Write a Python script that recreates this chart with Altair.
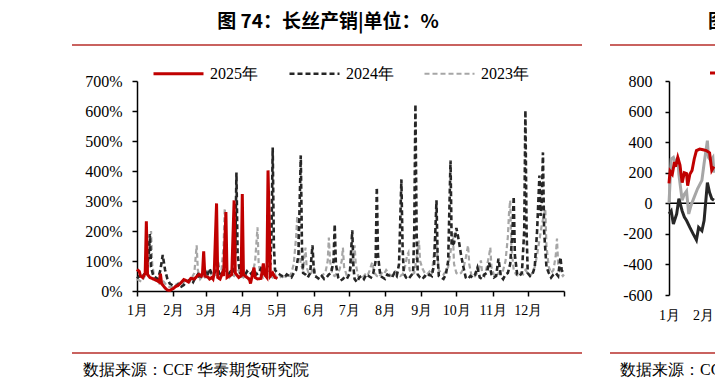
import json
import altair as alt
import pandas as pd

# ---------------- data ----------------
MONTH_STARTS = [0, 31, 59, 90, 120, 151, 181, 212, 243, 273, 304, 334, 365]
MONTH_LABELS = ["1月", "2月", "3月", "4月", "5月", "6月", "7月", "8月", "9月", "10月", "11月", "12月"]
SERIES = ["2025年", "2024年", "2023年"]
COLORS = ["#c00000", "#262626", "#a6a6a6"]
DASHES = [[1, 0], [5, 3], [5, 3]]
WIDTHS = [3, 2.2, 2.2]
Y_TICKS = [0, 100, 200, 300, 400, 500, 600, 700]

# (day of year, %)
s2025 = [(0, 72), (2, 65), (3, 50), (5, 45), (7, 60), (8, 232), (9, 55), (11, 45), (14, 40), (17, 35),
         (19, 30), (20, 58), (21, 25), (24, 10), (26, 3), (28, 2), (31, 8), (33, 15), (35, 18), (37, 25),
         (40, 38), (42, 35), (44, 30), (46, 42), (49, 40), (51, 48), (53, 55), (55, 50), (56, 60), (57, 132),
         (58, 50), (61, 45), (62, 40), (64, 45), (65, 40), (66, 60), (68, 292), (69, 45), (71, 40), (73, 60),
         (74, 50), (76, 263), (77, 45), (79, 50), (81, 55), (83, 302), (84, 60), (87, 45), (89, 50), (90, 323),
         (91, 55), (94, 45), (96, 40), (97, 25), (100, 78), (101, 45), (103, 40), (106, 42), (108, 92), (109, 55),
         (111, 45), (112, 402), (114, 50), (116, 60), (118, 45), (120, 42)]

s2024 = [(0, 42), (2, 50), (4, 45), (6, 55), (8, 60), (10, 120), (11, 190), (12, 80), (14, 50), (16, 45),
         (18, 40), (20, 70), (22, 120), (24, 70), (26, 40), (28, 25), (30, 20), (32, 15), (34, 18), (36, 25),
         (38, 15), (40, 20), (42, 30), (44, 35), (46, 40), (48, 30), (50, 45), (52, 55), (54, 40), (56, 60),
         (58, 70), (60, 50), (62, 75), (64, 55), (66, 60), (68, 70), (69, 102), (70, 60), (72, 55), (74, 70),
         (76, 60), (78, 55), (80, 65), (82, 60), (84, 130), (85, 395), (86, 120), (88, 60), (90, 55), (92, 50),
         (94, 65), (96, 55), (98, 60), (100, 70), (102, 55), (104, 60), (106, 75), (108, 65), (110, 60), (112, 70),
         (114, 90), (115, 200), (116, 478), (117, 150), (118, 70), (120, 60), (122, 55), (124, 50), (126, 45),
         (128, 55), (130, 50), (132, 45), (134, 60), (136, 70), (138, 120), (140, 452), (141, 150), (142, 60),
         (144, 55), (146, 45), (148, 60), (150, 152), (151, 80), (152, 50), (154, 45), (156, 40), (158, 50),
         (160, 40), (162, 45), (164, 55), (166, 60), (168, 100), (169, 222), (170, 90), (172, 45), (174, 35),
         (176, 40), (178, 50), (180, 45), (182, 60), (184, 202), (185, 80), (186, 40), (188, 30), (190, 45),
         (192, 50), (194, 40), (196, 55), (198, 50), (200, 45), (202, 60), (204, 100), (205, 345), (206, 120),
         (208, 50), (210, 45), (212, 40), (214, 55), (216, 50), (218, 45), (220, 60), (222, 50), (224, 90),
         (226, 372), (227, 150), (228, 60), (230, 45), (232, 40), (234, 50), (236, 60), (237, 200), (238, 622),
         (239, 200), (240, 55), (242, 45), (244, 40), (246, 50), (248, 45), (250, 55), (252, 50), (254, 90),
         (256, 302), (257, 110), (258, 50), (260, 45), (262, 40), (264, 55), (266, 100), (268, 435), (269, 150),
         (271, 160), (273, 210), (275, 170), (277, 120), (279, 80), (281, 45), (283, 40), (285, 50), (287, 45),
         (289, 55), (291, 78), (293, 45), (295, 40), (297, 55), (299, 60), (301, 95), (303, 55), (305, 45),
         (307, 50), (309, 108), (311, 50), (313, 40), (315, 55), (317, 60), (319, 90), (321, 200), (322, 315),
         (323, 120), (325, 55), (327, 50), (329, 60), (331, 200), (332, 602), (333, 200), (334, 60), (336, 50),
         (338, 55), (340, 80), (342, 200), (344, 385), (345, 250), (346, 300), (347, 462), (348, 200), (350, 80),
         (352, 60), (354, 45), (356, 55), (358, 60), (360, 50), (362, 112), (363, 70), (365, 55)]

s2023 = [(0, 40), (2, 35), (4, 30), (6, 45), (8, 60), (10, 120), (12, 200), (13, 90), (15, 40), (17, 30),
         (19, 25), (21, 40), (23, 30), (25, 20), (27, 15), (29, 12), (31, 15), (33, 20), (35, 25), (37, 30),
         (39, 25), (41, 35), (43, 40), (45, 30), (47, 45), (49, 60), (51, 152), (52, 70), (54, 40), (56, 50),
         (58, 45), (60, 55), (62, 65), (64, 50), (66, 60), (68, 45), (70, 55), (72, 60), (74, 150), (75, 275),
         (76, 180), (77, 60), (79, 45), (81, 55), (83, 50), (85, 60), (87, 70), (89, 50), (91, 45), (93, 55),
         (95, 40), (97, 50), (99, 60), (101, 100), (103, 212), (104, 90), (106, 50), (108, 45), (110, 55),
         (112, 40), (114, 50), (116, 45), (118, 55), (120, 40), (122, 45), (124, 50), (126, 40), (128, 55),
         (130, 45), (132, 60), (134, 90), (136, 180), (137, 250), (138, 160), (140, 90), (142, 70), (144, 145),
         (145, 80), (147, 55), (149, 60), (151, 80), (153, 50), (155, 40), (157, 45), (159, 55), (161, 60),
         (163, 100), (164, 178), (165, 100), (167, 55), (169, 50), (171, 60), (173, 70), (175, 100), (176, 145),
         (177, 80), (179, 55), (181, 60), (183, 80), (185, 110), (186, 152), (187, 90), (189, 50), (191, 40),
         (193, 45), (195, 55), (197, 50), (199, 70), (201, 95), (203, 60), (205, 50), (207, 45), (209, 60),
         (211, 55), (213, 70), (215, 60), (217, 50), (219, 55), (221, 65), (223, 60), (225, 50), (227, 55),
         (229, 80), (231, 120), (232, 128), (233, 70), (235, 55), (237, 60), (239, 110), (241, 168), (242, 100),
         (244, 75), (246, 60), (248, 55), (250, 65), (252, 55), (254, 130), (255, 200), (256, 150), (258, 70),
         (260, 60), (262, 55), (264, 65), (266, 80), (268, 130), (270, 192), (271, 90), (273, 60), (275, 55),
         (277, 60), (279, 75), (281, 110), (283, 152), (284, 90), (286, 50), (288, 45), (290, 55), (292, 70),
         (294, 102), (295, 60), (297, 50), (299, 80), (301, 120), (302, 145), (303, 80), (305, 55), (307, 50),
         (309, 60), (311, 55), (313, 70), (315, 100), (317, 180), (318, 260), (319, 302), (320, 150), (322, 70),
         (324, 55), (326, 50), (328, 60), (330, 55), (332, 70), (334, 60), (336, 50), (338, 60), (340, 80),
         (342, 120), (344, 170), (346, 220), (349, 275), (350, 150), (352, 80), (354, 60), (356, 70), (358, 120),
         (359, 175), (360, 90), (362, 60), (364, 50), (365, 55)]

# right-hand (partially visible) neighbouring chart
R_SERIES = ["2023", "2024", "2025"]
R_COLORS = ["#a6a6a6", "#262626", "#c00000"]
R_Y_TICKS = [-600, -400, -200, 0, 200, 400, 600, 800]
r2025 = [(0, 130), (1, 210), (3, 190), (5, 270), (6, 240), (8, 300), (10, 250), (12, 135), (14, 200),
         (16, 195), (17, 115), (19, 190), (21, 215), (23, 290), (25, 345), (28, 355), (31, 350), (34, 345),
         (37, 330), (39, 215), (41, 240)]
r2023 = [(0, 0), (2, 290), (4, 300), (6, 260), (8, 300), (9, 190), (12, 20), (14, 60), (16, 80), (18, -70),
         (20, -15), (23, 40), (26, 95), (30, 150), (32, 260), (35, 410), (36, 300), (38, 280), (40, 300),
         (41, 200)]
r2024 = [(0, -70), (2, -50), (4, -135), (7, -70), (9, 30), (12, -50), (14, -90), (16, -113), (19, -158),
         (22, -200), (25, -240), (27, -158), (30, -180), (32, -113), (35, 135), (37, 70), (39, 30), (41, 20)]

TITLE = "图 74：长丝产销|单位：%"
SOURCE = "数据来源：CCF 华泰期货研究院"

# ---------------- layout constants ----------------
W, H = 427, 210
PAD = {"left": 137, "top": 81, "right": 715 - 137 - W, "bottom": 389 - 81 - H}
SERIF = "Liberation Serif, serif"
CJK = "Noto Sans CJK SC, sans-serif"
RED_LINE = "#c9625f"

rows = []
for name, s in [("2023年", s2023), ("2024年", s2024), ("2025年", s2025)]:
    for d, v in s:
        rows.append({"day": d, "value": v, "series": name})
df = pd.DataFrame(rows)

rrows = []
for name, s in [("2023", r2023), ("2024", r2024), ("2025", r2025)]:
    for d, v in s:
        rrows.append({"rday": d, "rval": v, "rseries": name})
dfr = pd.DataFrame(rrows)

label_expr = ("datum.value >= 365 ? '' : " + json.dumps(MONTH_LABELS, ensure_ascii=False)
              + "[indexof(" + json.dumps(MONTH_STARTS) + ", datum.value)]")

x_main = alt.X("day:Q", scale=alt.Scale(domain=[0, 365], nice=False, zero=False),
               axis=alt.Axis(values=MONTH_STARTS, labelExpr=label_expr, title=None, grid=False,
                             tickSize=5, tickWidth=1.5, tickColor="#000", domainColor="#000",
                             domainWidth=1.5, labelFont=SERIF, labelFontSize=14, labelColor="#000",
                             labelPadding=7, labelAngle=0, labelFlush=False, labelOverlap=False))
y_main = alt.Y("value:Q", scale=alt.Scale(domain=[0, 700], nice=False),
               axis=alt.Axis(values=Y_TICKS, labelExpr="datum.value + '%'", title=None, grid=False,
                             tickSize=5, tickWidth=1.5, tickColor="#000", domainColor="#000",
                             domainWidth=1.5, labelFont=SERIF, labelFontSize=16, labelColor="#000",
                             labelPadding=10, labelOverlap=False))

leg = dict(orient="none", legendX=15, legendY=-34, direction="horizontal", title=None,
           symbolType="stroke", symbolSize=2500, labelFont=SERIF, labelFontSize=16,
           labelColor="#000", labelOffset=5, columnPadding=26)

color = alt.Color("series:N", scale=alt.Scale(domain=SERIES, range=COLORS), legend=alt.Legend(**leg))
dash = alt.StrokeDash("series:N", scale=alt.Scale(domain=SERIES, range=DASHES), legend=alt.Legend(**leg))
width = alt.StrokeWidth("series:N", scale=alt.Scale(domain=SERIES, range=WIDTHS), legend=alt.Legend(**leg))

main_layers = []
for name in ["2023年", "2024年", "2025年"]:
    main_layers.append(
        alt.Chart(df).transform_filter(alt.datum.series == name)
        .mark_line()
        .encode(x=x_main, y=y_main, color=color, strokeDash=dash, strokeWidth=width)
    )
main = alt.layer(*main_layers)

# right partial chart
x_r = alt.X("rday:Q", scale=alt.Scale(domain=[0, 31], range=[532, 566], nice=False, zero=False),
            axis=alt.Axis(values=[0, 31], labelExpr="datum.value == 0 ? '1月' : '2月'", title=None,
                          grid=False, ticks=False, tickSize=0, domain=False, orient="bottom",
                          labelFont=SERIF, labelFontSize=14, labelColor="#000", labelPadding=17,
                          labelFlush=False, labelOverlap=False))
y_r_scale = alt.Scale(domain=[-600, 800], range=[214, 0], nice=False, zero=False)
y_r_axis = alt.Axis(values=R_Y_TICKS, labelExpr="datum.value + ''", title=None, grid=False,
                    orient="left", offset=-532, tickSize=4, tickWidth=1.5, tickColor="#000",
                    domainColor="#000", domainWidth=1.5, labelFont=SERIF, labelFontSize=16,
                    labelColor="#000", labelPadding=13, labelOverlap=False)
right_layers = []
for name, col in zip(R_SERIES, R_COLORS):
    right_layers.append(
        alt.Chart(dfr).transform_filter(alt.datum.rseries == name)
        .mark_line(color=col, strokeWidth=3)
        .encode(x=x_r, y=alt.Y("rval:Q", scale=y_r_scale, axis=y_r_axis))
    )
zero_rule = alt.Chart(pd.DataFrame({"z": [0]})).mark_rule(color="#000", strokeWidth=1.5).encode(
    y=alt.Y("z:Q", scale=y_r_scale, axis=y_r_axis), x=alt.value(532), x2=alt.value(578))
right = alt.layer(zero_rule, *right_layers)

one = pd.DataFrame({"a": [0]})


def text(t, x, y, size, font, weight="normal", align="left"):
    return alt.Chart(one).mark_text(text=t, font=font, fontSize=size, fontWeight=weight, align=align,
                                    baseline="middle", color="#000").encode(x=alt.value(x), y=alt.value(y))


def hrule(x1, x2, y, col=RED_LINE, w=2):
    return alt.Chart(one).mark_rule(color=col, strokeWidth=w).encode(
        x=alt.value(x1), x2=alt.value(x2), y=alt.value(y))


decos = [
    text(TITLE, 191, -59, 19, CJK, "bold", "center"),
    hrule(72 - 137, 582 - 137, 45 - 81),
    hrule(72 - 137, 582 - 137, 353 - 81),
    text(SOURCE, 83 - 137, 370 - 81, 16, SERIF),
    hrule(610 - 137, 578, 45 - 81),
    hrule(610 - 137, 578, 353 - 81),
    text(SOURCE, 620 - 137, 370 - 81, 16, SERIF),
    text("图 75", 708 - 137, -59, 19, CJK, "bold"),
    hrule(710 - 137, 578, 73 - 81, "#c00000", 3),
]

chart = (
    alt.layer(main, right, *decos)
    .resolve_scale(x="independent", y="independent")
    .properties(width=W, height=H, padding=PAD, autosize=alt.AutoSizeParams(type="none"),
                background="white")
    .configure_view(stroke=None)
)

chart.save("out.html", embed_options={"renderer": "svg", "actions": False})
